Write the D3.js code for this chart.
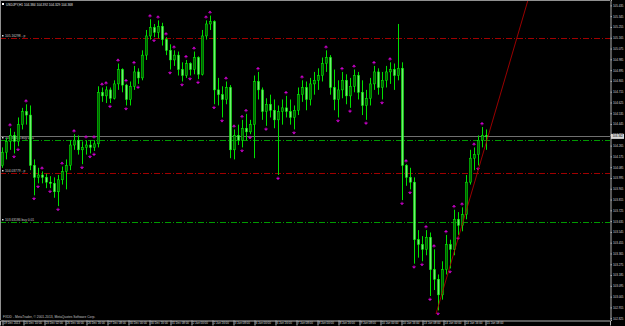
<!DOCTYPE html>
<html lang="en">
<head>
<meta charset="UTF-8">
<title>USDJPY,H1</title>
<style>
  body { margin: 0; background: #000; }
  svg { display: block; }
  text { font-family: "Liberation Sans", Arial, sans-serif; }
</style>
</head>
<body>
<div id="chart"></div>
<script src="https://d3js.org/d3.v7.min.js"></script>
<script>
// USDJPY H1 (one candle here ~ 3 hourly bars)
var opens = [104.10,104.21,104.30,104.35,104.30,104.44,104.55,104.52,104.10,104.00,
             104.02,104.00,103.96,103.95,103.88,103.98,104.05,104.10,104.27,104.31,
             104.23,104.25,104.27,104.25,104.28,104.71,104.68,104.73,104.66,104.78,
             104.90,104.77,104.65,104.76,104.88,104.83,105.02,105.18,105.25,105.21,
             105.26,105.15,105.06,104.98,105.02,104.90,104.85,104.95,104.90,105.00,
             104.86,105.18,105.28,105.30,104.73,104.69,104.65,104.75,104.23,104.35,
             104.31,104.41,104.38,104.44,104.80,104.73,104.55,104.61,104.56,104.48,
             104.55,104.58,104.55,104.50,104.56,104.69,104.75,104.65,104.78,104.81,
             104.85,104.95,105.00,104.75,104.65,104.73,104.81,104.68,104.76,104.85,
             104.71,104.60,104.66,104.78,104.88,104.75,104.81,104.88,104.90,104.85,
             104.91,104.10,104.00,103.96,103.48,103.44,103.40,103.50,103.23,103.15,
             103.02,103.23,103.44,103.40,103.65,103.60,103.69,103.96,104.16,104.19,
             104.31,104.35];
var highs = [104.25,104.33,104.41,104.38,104.50,104.58,104.61,104.60,104.15,104.08,
             104.05,104.03,104.01,104.00,104.02,104.09,104.15,104.31,104.36,104.35,
             104.30,104.31,104.31,104.31,104.76,104.75,104.76,104.75,104.81,104.95,
             104.91,104.78,104.80,104.93,104.91,105.06,105.23,105.32,105.28,105.31,
             105.29,105.17,105.11,105.06,105.05,104.96,104.98,104.96,105.05,105.01,
             105.23,105.31,105.35,105.31,104.83,104.76,104.80,104.77,104.40,104.44,
             104.48,104.53,104.48,104.85,104.88,104.75,104.66,104.69,104.65,104.60,
             104.65,104.68,104.65,104.60,104.75,104.81,104.80,104.83,104.88,104.91,
             105.00,105.06,105.02,104.90,104.81,104.88,104.86,104.83,104.90,104.88,
             104.81,104.73,104.83,104.93,104.91,104.88,104.93,104.96,104.95,105.28,
             104.96,104.11,104.08,104.00,103.56,103.51,103.56,103.54,103.40,103.19,
             103.30,103.52,103.48,103.73,103.71,103.75,104.02,104.23,104.25,104.35,
             104.42,104.40];
var lows = [104.08,104.15,104.23,104.20,104.26,104.40,104.44,104.06,103.85,103.95,
            103.95,103.91,103.91,103.83,103.76,103.94,103.90,104.06,104.23,104.19,
            104.11,104.19,104.20,104.22,104.25,104.63,104.62,104.62,104.65,104.73,
            104.71,104.60,104.60,104.73,104.78,104.81,104.98,105.15,105.17,105.16,
            105.10,105.02,104.90,104.93,104.85,104.80,104.83,104.85,104.86,104.82,
            104.85,105.15,105.23,104.61,104.60,104.50,104.61,104.16,104.15,104.27,
            104.25,104.31,104.36,104.16,104.65,104.48,104.43,104.50,104.41,104.02,
            104.44,104.50,104.44,104.40,104.52,104.63,104.56,104.60,104.69,104.73,
            104.80,104.88,104.69,104.56,104.50,104.66,104.61,104.58,104.71,104.65,
            104.52,104.48,104.60,104.73,104.69,104.65,104.75,104.78,104.73,104.81,
            103.81,103.93,103.90,103.28,103.33,103.30,103.35,103.01,103.06,102.89,
            102.98,103.19,103.24,103.35,103.52,103.55,103.65,103.94,104.06,104.10,
            104.25,104.23];
var closes = [104.21,104.30,104.35,104.30,104.44,104.55,104.52,104.10,104.00,104.02,
              104.00,103.96,103.95,103.88,103.98,104.05,104.10,104.27,104.31,104.23,
              104.25,104.27,104.25,104.28,104.71,104.68,104.73,104.66,104.78,104.90,
              104.77,104.65,104.76,104.88,104.83,105.02,105.18,105.25,105.21,105.26,
              105.15,105.06,104.98,105.02,104.90,104.85,104.95,104.90,105.00,104.86,
              105.18,105.28,105.30,104.73,104.69,104.65,104.75,104.23,104.35,104.31,
              104.41,104.38,104.44,104.80,104.73,104.55,104.61,104.56,104.48,104.55,
              104.58,104.55,104.50,104.56,104.69,104.75,104.65,104.78,104.81,104.85,
              104.95,105.00,104.75,104.65,104.73,104.81,104.68,104.76,104.85,104.71,
              104.60,104.66,104.78,104.88,104.75,104.81,104.88,104.90,104.85,104.91,
              104.10,104.00,103.96,103.48,103.44,103.40,103.50,103.23,103.15,103.02,
              103.23,103.44,103.40,103.65,103.60,103.69,103.96,104.16,104.19,104.31,
              104.35,104.34];

// fractal arrows (candle index)
var fractalUp = [2,6,10,15,18,21,23,25,26,29,31,33,37,39,41,43,46,48,51,52,56,58,60,61,64,
                 71,75,81,85,88,93,97,101,106,108,111,113,115,118,120];
var fractalDown = [3,4,8,9,12,14,20,22,23,27,31,34,38,42,45,47,49,53,55,60,62,
                   66,69,73,84,87,91,95,100,102,103,105,107,109,112,114,119];

// horizontal levels drawn on the chart
var levelPrices = [105.163, 104.310, 104.040, 103.630];
var levelLabels = ["105.16298 - p", "104.31014 buy 0.01", "104.03779 - p", "103.63186 buy 0.01"];
var bidPrice = 104.342;

// trend line (candle index, price)
var trendBars = [108.5, 131.5];
var trendPrices = [102.86, 105.48];

var priceTicks = [105.435,105.345,105.255,105.165,105.075,104.985,104.895,104.805,104.715,104.625,
                  104.535,104.445,104.355,104.265,104.175,104.085,103.995,103.905,103.815,103.725,
                  103.635,103.545,103.455,103.365,103.275,103.185,103.095,103.005,102.915,102.825];

var timeTickBars = [0,5.25,10.5,15.75,21,26.25,31.5,36.75,42,47.25,52.5,57.75,63,68.25,73.5,
                    78.75,84,89.25,94.5,99.75,105,110.25,115.5,120.75];
var timeLabels = ["19 Dec 2013","20 Dec 10:00","23 Dec 02:00","26 Dec 00:00","26 Dec 16:00",
                  "27 Dec 08:00","30 Dec 00:00","30 Dec 16:00","31 Dec 08:00","2 Jan 00:00",
                  "2 Jan 16:00","3 Jan 08:00","6 Jan 00:00","6 Jan 16:00","7 Jan 08:00",
                  "8 Jan 00:00","8 Jan 16:00","9 Jan 08:00","10 Jan 00:00","10 Jan 16:00",
                  "13 Jan 08:00","14 Jan 00:00","14 Jan 16:00","15 Jan 08:00"];

var title = "USDJPY,H1  104.384 104.392 104.329 104.368";
var footer = "FXDD - MetaTrader, \u00a9 2001-2013, MetaQuotes Software Corp.";

// chart
var W = 625, H = 326, plotW = 610, plotH = 320;

var svg = d3.select("#chart").append("svg")
    .attr("width", W)
    .attr("height", H)
    .style("background", "#000");

var x = d3.scaleLinear().domain([-0.5, 152]).range([0, plotW]);
var y = d3.scaleLinear().domain([102.81, 105.48]).range([plotH, 0]);

var plot = svg.append("g");
plot.append("clipPath").attr("id", "clip")
    .append("rect").attr("width", plotW).attr("height", plotH);

var inner = plot.append("g").attr("clip-path", "url(#clip)");

// levels
levelPrices.forEach(function(p, k) {
    var isBuy = levelLabels[k].indexOf("buy") >= 0;
    var yy = Math.round(y(p)) + 0.5;
    inner.append("line")
        .attr("x1", 0).attr("x2", plotW)
        .attr("y1", yy).attr("y2", yy)
        .attr("stroke", isBuy ? "#009a00" : "#a00000")
        .attr("stroke-dasharray", "6,2,1,2");
    inner.append("rect")
        .attr("x", 2).attr("y", yy - 3.5).attr("width", 1.5).attr("height", 1.5)
        .attr("fill", "#ddd");
    inner.append("text")
        .attr("x", 5).attr("y", yy - 1.3)
        .attr("font-size", 3.3)
        .attr("fill", "#c8c8c8")
        .text(levelLabels[k]);
});

// bid line
inner.append("line")
    .attr("x1", 0).attr("x2", plotW)
    .attr("y1", Math.round(y(bidPrice)) + 0.5).attr("y2", Math.round(y(bidPrice)) + 0.5)
    .attr("stroke", "#707070");

// candles
var bars = opens.map(function(o, i) {
    return { i: i, o: o, h: highs[i], l: lows[i], c: closes[i] };
});

inner.selectAll(".wick")
    .data(bars)
    .enter().append("line")
    .attr("class", "wick")
    .attr("x1", function(d) { return Math.round(x(d.i)) + 0.5; })
    .attr("x2", function(d) { return Math.round(x(d.i)) + 0.5; })
    .attr("y1", function(d) { return y(d.h); })
    .attr("y2", function(d) { return y(d.l); })
    .attr("stroke", "#00e000");

inner.selectAll(".body")
    .data(bars)
    .enter().append("rect")
    .attr("class", "body")
    .attr("x", function(d) { return Math.round(x(d.i)) - 0.5; })
    .attr("width", 2)
    .attr("y", function(d) { return y(Math.max(d.o, d.c)); })
    .attr("height", function(d) { return Math.max(1, Math.abs(y(d.o) - y(d.c))); })
    .attr("fill", function(d) { return d.c >= d.o ? "#006400" : "#70f070"; })
    .attr("stroke", "#00ff00")
    .attr("stroke-width", 0.5);

// fractals
inner.selectAll(".fup")
    .data(fractalUp)
    .enter().append("path")
    .attr("class", "fup")
    .attr("transform", function(i) { return "translate(" + x(i) + "," + (y(highs[i]) - 3.5) + ")"; })
    .attr("d", "M-1.5,0.5L0,-1.2L1.5,0.5ZM0,0.5V2")
    .attr("fill", "#d000d0")
    .attr("stroke", "#d000d0")
    .attr("stroke-width", 0.6);

inner.selectAll(".fdn")
    .data(fractalDown)
    .enter().append("path")
    .attr("class", "fdn")
    .attr("transform", function(i) { return "translate(" + x(i) + "," + (y(lows[i]) + 3.5) + ")"; })
    .attr("d", "M-1.5,-0.5L0,1.2L1.5,-0.5ZM0,-0.5V-2")
    .attr("fill", "#d000d0")
    .attr("stroke", "#d000d0")
    .attr("stroke-width", 0.6);

// trend line
inner.append("line")
    .attr("x1", x(trendBars[0])).attr("y1", y(trendPrices[0]))
    .attr("x2", x(trendBars[1])).attr("y2", y(trendPrices[1]))
    .attr("stroke", "#c00000")
    .attr("stroke-width", 0.8);

// frame
svg.append("line").attr("x1", 0).attr("x2", plotW).attr("y1", 0.5).attr("y2", 0.5).attr("stroke", "#909090");
svg.append("line").attr("x1", 0.5).attr("x2", 0.5).attr("y1", 0).attr("y2", plotH).attr("stroke", "#909090");

// axes
var yAxis = svg.append("g")
    .attr("transform", "translate(" + (plotW + 0.5) + ",0)")
    .call(d3.axisRight(y).tickValues(priceTicks).tickSize(1.5).tickPadding(1)
        .tickFormat(d3.format(".3f")));

var xAxis = svg.append("g")
    .attr("transform", "translate(0," + (plotH + 0.5) + ")")
    .call(d3.axisBottom(x).tickValues(timeTickBars).tickSize(5).tickPadding(-3)
        .tickFormat(function(d, k) { return timeLabels[k]; }));

[yAxis, xAxis].forEach(function(a) {
    a.select(".domain").attr("stroke", "#b0b0b0");
    a.selectAll(".tick line").attr("stroke", "#b0b0b0");
    a.selectAll("text").attr("fill", "#d8d8d8").attr("font-size", 2.9)
        .attr("font-family", "Liberation Sans, Arial, sans-serif");
});
xAxis.selectAll(".tick text").attr("text-anchor", "start").attr("dx", 1.2).attr("dy", "0.35em");
xAxis.selectAll(".tick line").attr("x1", 0.5).attr("x2", 0.5);

// bid label on price axis
svg.append("rect")
    .attr("x", plotW + 1).attr("y", y(bidPrice) - 2.5)
    .attr("width", W - plotW - 2).attr("height", 5)
    .attr("fill", "#d8d8d8");
svg.append("text")
    .attr("x", plotW + 2.5).attr("y", y(bidPrice) + 1.1)
    .attr("font-size", 2.9).attr("fill", "#000")
    .text(d3.format(".3f")(bidPrice));

// title and footer
svg.append("rect").attr("x", 2).attr("y", 3).attr("width", 2).attr("height", 2).attr("fill", "#fff");
svg.append("text").attr("x", 6).attr("y", 5.5).attr("font-size", 3.2).attr("fill", "#e0e0e0").text(title);
svg.append("text").attr("x", 3).attr("y", 318).attr("font-size", 3.3).attr("fill", "#c0c0c0").text(footer);
</script>
</body>
</html>
